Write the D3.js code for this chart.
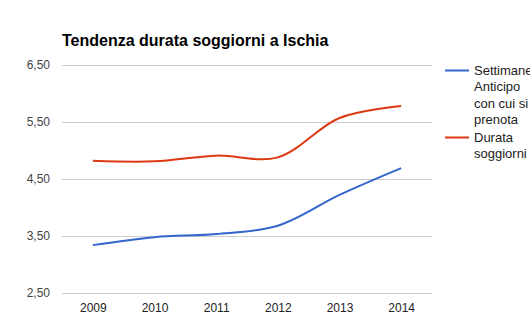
<!DOCTYPE html>
<html><head><meta charset="utf-8">
<script src="https://cdn.jsdelivr.net/npm/d3@7"></script>
<style>body{margin:0;background:#fff;overflow:hidden}svg{display:block}</style>
</head><body>
<script>
const years = ["2009","2010","2011","2012","2013","2014"];
const settimaneAnticipo = [3.34, 3.48, 3.535, 3.68, 4.22, 4.69];
const durataSoggiorni = [4.82, 4.81, 4.91, 4.88, 5.57, 5.78];
const yTicks = [2.5, 3.5, 4.5, 5.5, 6.5];
const seriesNames = [["Settimane","Anticipo","con cui si","prenota"],["Durata","soggiorni"]];
const colors = ["#3366cc", "#dc3912"];

const W = 530, H = 328;
const svg = d3.select("body").append("svg").attr("width", W).attr("height", H);
const m = {l: 62, r: 432, t: 65, b: 293};
const x = d3.scalePoint().domain(years).range([m.l, m.r]).padding(0.5);
const y = d3.scaleLinear().domain([2.5, 6.5]).range([m.b, m.t]);
const fmt = d => d.toFixed(2).replace(".", ",");
const font = "Arial, 'Liberation Sans', sans-serif";

svg.append("text").attr("x", 62).attr("y", 46).attr("font-family", font)
  .attr("font-weight", "bold").attr("font-size", 16).attr("fill", "#000")
  .text("Tendenza durata soggiorni a Ischia");

const yAxis = svg.append("g").attr("transform", `translate(${m.l},0)`)
  .call(d3.axisLeft(y).tickValues(yTicks).tickFormat(fmt).tickSize(-(m.r - m.l)).tickPadding(12));
yAxis.select(".domain").remove();
yAxis.selectAll("line").attr("stroke", "#cccccc");
yAxis.selectAll("text").attr("font-family", font).attr("font-size", 12).attr("fill", "#444");

const xAxis = svg.append("g").attr("transform", `translate(0,${m.b})`)
  .call(d3.axisBottom(x).tickSize(0).tickPadding(10));
xAxis.select(".domain").remove();
xAxis.selectAll("text").attr("font-family", font).attr("font-size", 12).attr("fill", "#222");

const line = d3.line().x((d, i) => x(years[i])).y(d => y(d)).curve(d3.curveCatmullRom.alpha(0.5));
[settimaneAnticipo, durataSoggiorni].forEach((s, k) => {
  svg.append("path").datum(s).attr("d", line).attr("fill", "none")
    .attr("stroke", colors[k]).attr("stroke-width", 2);
});

const legY = [70.5, 137.5];
seriesNames.forEach((lines, k) => {
  svg.append("line").attr("x1", 445).attr("x2", 469).attr("y1", legY[k]).attr("y2", legY[k])
    .attr("stroke", colors[k]).attr("stroke-width", 2);
  lines.forEach((t, j) => {
    svg.append("text").attr("x", 474).attr("y", legY[k] + 4.5 + j * 16.3)
      .attr("font-family", font).attr("font-size", 13).attr("fill", "#222").text(t);
  });
});
</script>
</body></html>
